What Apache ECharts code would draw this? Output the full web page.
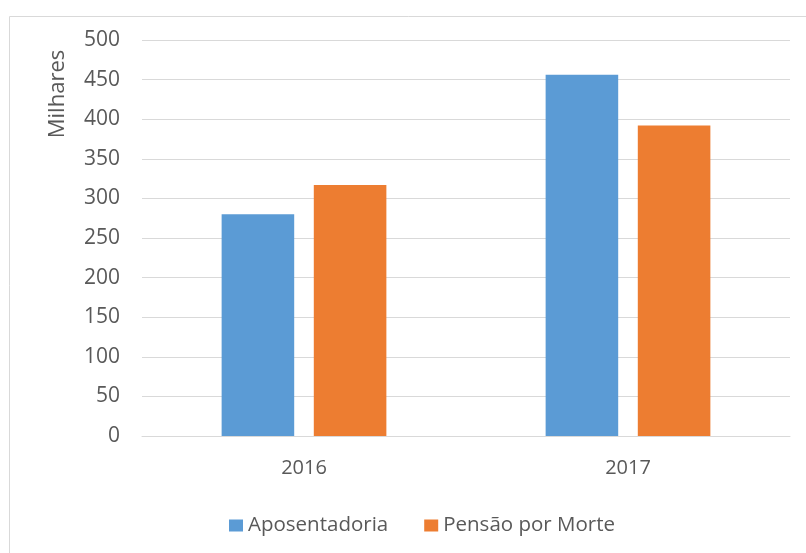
<!DOCTYPE html>
<html>
<head>
<meta charset="utf-8">
<script src="https://cdn.jsdelivr.net/npm/echarts@6/dist/echarts.min.js"></script>
<style>
  html, body { margin: 0; padding: 0; background: #fff; }
  #chart { width: 806px; height: 553px; }
</style>
</head>
<body>
<div id="chart"></div>
<script>
// dados
const anos = ['2016', '2017'];
const aposentadoria = [280, 456];
const pensao = [317, 392];

document.addEventListener('DOMContentLoaded', function () {
    const chartDom = document.getElementById('chart');
    const chart = echarts.init(chartDom);
    const fonte = 'Open Sans';
    const option = {
        textStyle: { fontFamily: fonte },
        animation: false,
        color: ['#5B9BD5', '#ED7D31'],
        graphic: [
            {
                type: 'rect',
                shape: { x: 9.5, y: 16.5, width: 810, height: 560 },
                style: { fill: 'none', stroke: '#D9D9D9', lineWidth: 1 }
            },
            {
                type: 'text',
                x: 58,
                y: 94,
                rotation: Math.PI / 2,
                style: {
                    text: 'Milhares',
                    fill: '#595959',
                    font: '22px "Open Sans"',
                    align: 'center',
                    verticalAlign: 'middle'
                }
            }
        ],
        grid: {
            left: 142,
            right: 16,
            top: 40,
            bottom: 117
        },
        legend: {
            top: 510,
            left: 224,
            itemWidth: 14,
            itemHeight: 12,
            itemGap: 36,
            icon: 'rect',
            textStyle: { fontSize: 20.5, color: '#595959', fontFamily: fonte },
            data: ['Aposentadoria', 'Pensão por Morte']
        },
        xAxis: {
            type: 'category',
            data: anos,
            axisLine: { lineStyle: { color: '#D9D9D9' } },
            axisTick: { show: false },
            axisLabel: { color: '#595959', fontSize: 20, margin: 22 }
        },
        yAxis: {
            type: 'value',
            min: 0,
            max: 500,
            interval: 50,
            axisLine: { show: false },
            axisTick: { show: false },
            axisLabel: { color: '#595959', fontSize: 21, margin: 22 },
            splitLine: { lineStyle: { color: '#D9D9D9' } }
        },
        series: [
            {
                name: 'Aposentadoria',
                type: 'bar',
                data: aposentadoria,
                barWidth: '22.4%',
                barGap: '27%'
            },
            {
                name: 'Pensão por Morte',
                type: 'bar',
                data: pensao,
                barWidth: '22.4%',
                barGap: '27%'
            }
        ]
    };
    chart.setOption(option);
});
</script>
</body>
</html>
